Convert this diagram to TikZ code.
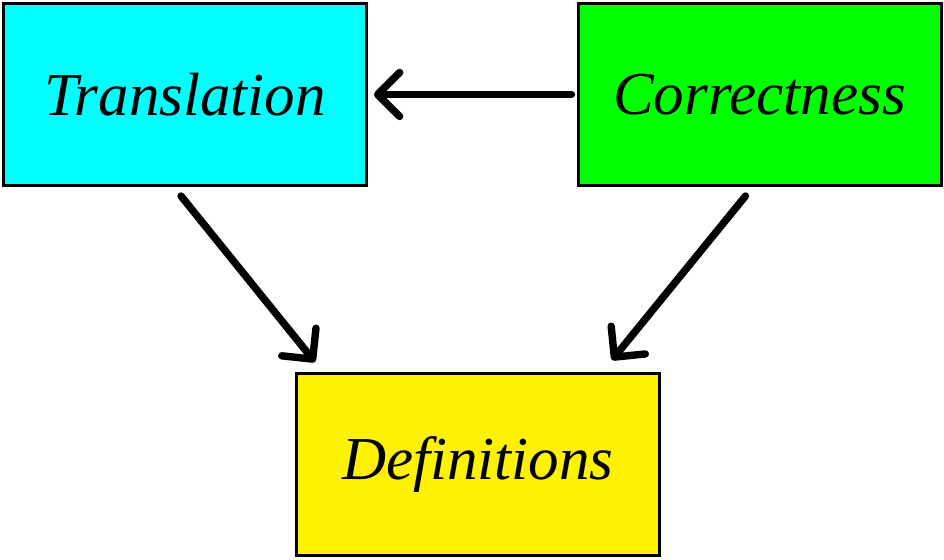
\documentclass[tikz,border=0pt]{standalone}
\usepackage{fontspec}
\setmainfont{Liberation Serif}
\usetikzlibrary{arrows.meta}
\definecolor{boxcyan}{RGB}{0,255,255}
\definecolor{boxgreen}{RGB}{0,255,0}
\definecolor{boxyellow}{RGB}{255,242,0}
\tikzset{
    part/.style={draw, line width=1.5pt, minimum width=181.5pt, minimum height=91pt,
        inner sep=0pt, font=\itshape\fontsize{30.5}{34}\selectfont},
    dep/.style={line width=3.7pt, line cap=round,
        -{Straight Barb[round, length=11pt, width=22pt]}}
}
\begin{document}
\begin{tikzpicture}[x=0.5pt, y=-0.5pt]
    \useasboundingbox (0,0) rectangle (944,560);
    \node[part, fill=boxcyan] at (185,94.5) (trans) {Translation};
    \node[part, fill=boxgreen] at (759.5,94.5) (corr) {Correctness};
    \node[part, fill=boxyellow] at (478,464.5) (defs) {Definitions};
    \draw[dep] ([xshift=-2.5pt]corr.west) -- ([xshift=3pt]trans.east);
    \draw[dep] ([xshift=-2pt, yshift=-4.5pt]trans.south) -- ([xshift=10pt, yshift=5pt]defs.north west);
    \draw[dep] ([xshift=-7pt, yshift=-4.5pt]corr.south) -- ([xshift=-24.5pt, yshift=6pt]defs.north east);
\end{tikzpicture}
\end{document}
